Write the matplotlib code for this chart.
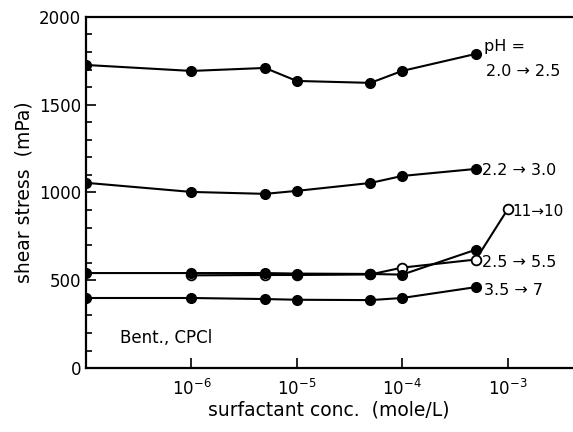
import numpy as np
import matplotlib; matplotlib.use('Agg')
import matplotlib.pyplot as plt
from matplotlib.ticker import MultipleLocator, FixedLocator

plt.rcParams['font.family'] = 'DejaVu Sans'
plt.rcParams['mathtext.fontset'] = 'dejavusans'

# surfactant concentrations (mole/L)
conc = [1e-7, 1e-6, 5e-6, 1e-5, 5e-5, 1e-4, 5e-4]
conc_open = [1e-6, 5e-6, 1e-5, 5e-5, 1e-4, 5e-4, 1e-3]

# shear stress (mPa), one list per pH shift
s_20_25 = [1726, 1692, 1709, 1635, 1624, 1692, 1789]
s_22_30 = [1055, 1003, 992, 1009, 1054, 1094, 1134]
s_25_55 = [541, 541, 541, 538, 536, 532, 674]
s_11_10 = [528, 530, 530, 533, 572, 618, 903]
s_35_7 = [399, 399, 393, 389, 387, 399, 461]

fig = plt.figure(figsize=(5.73, 4.32), dpi=100)
ax = fig.add_axes([0.150, 0.148, 0.848, 0.813])

kw = dict(color='black', lw=1.5, marker='o', ms=7)
ax.plot(conc, s_20_25, **kw)
ax.plot(conc, s_22_30, **kw)
ax.plot(conc_open, s_11_10, color='black', lw=1.5, marker='o', ms=7,
        mfc='white', mec='black', mew=1.3)
ax.plot(conc, s_25_55, **kw)
ax.plot(conc, s_35_7, **kw)

ax.set_xscale('log')
ax.set_xlim(1e-7, 10**-2.39)
ax.set_ylim(0, 2000)
ax.xaxis.set_major_locator(FixedLocator([1e-6, 1e-5, 1e-4, 1e-3]))
ax.xaxis.set_minor_locator(FixedLocator([]))
ax.yaxis.set_major_locator(MultipleLocator(500))
ax.yaxis.set_minor_locator(MultipleLocator(100))
ax.tick_params(which='both', direction='in', labelsize=12, width=1.2)
ax.tick_params(which='major', length=7)
ax.tick_params(which='minor', length=4)
ax.tick_params(axis='x', pad=8)
for s in ['left', 'top', 'bottom']:
    ax.spines[s].set_linewidth(1.6)
ax.spines['right'].set_visible(False)

ax.set_xlabel('surfactant conc.  (mole/L)', fontsize=13.5, labelpad=1)
ax.set_ylabel('shear stress  (mPa)', fontsize=13.5, labelpad=4)

txt = dict(fontsize=11.5, va='center', ha='left')
ax.text(0.82, 0.915, 'pH =', transform=ax.transAxes, **txt)
ax.text(0.824, 0.845, '2.0 \u2192 2.5', transform=ax.transAxes, **txt)
ax.text(0.815, 0.563, '2.2 \u2192 3.0', transform=ax.transAxes, **txt)
ax.text(0.877, 0.447, '11\u219210', transform=ax.transAxes, fontsize=11,
        va='center', ha='left')
ax.text(0.815, 0.30, '2.5 \u2192 5.5', transform=ax.transAxes, **txt)
ax.text(0.82, 0.22, '3.5 \u2192 7', transform=ax.transAxes, **txt)
ax.text(0.07, 0.085, 'Bent., CPCl', transform=ax.transAxes, fontsize=12,
        va='center', ha='left')

fig.savefig('out.png', dpi=100)
